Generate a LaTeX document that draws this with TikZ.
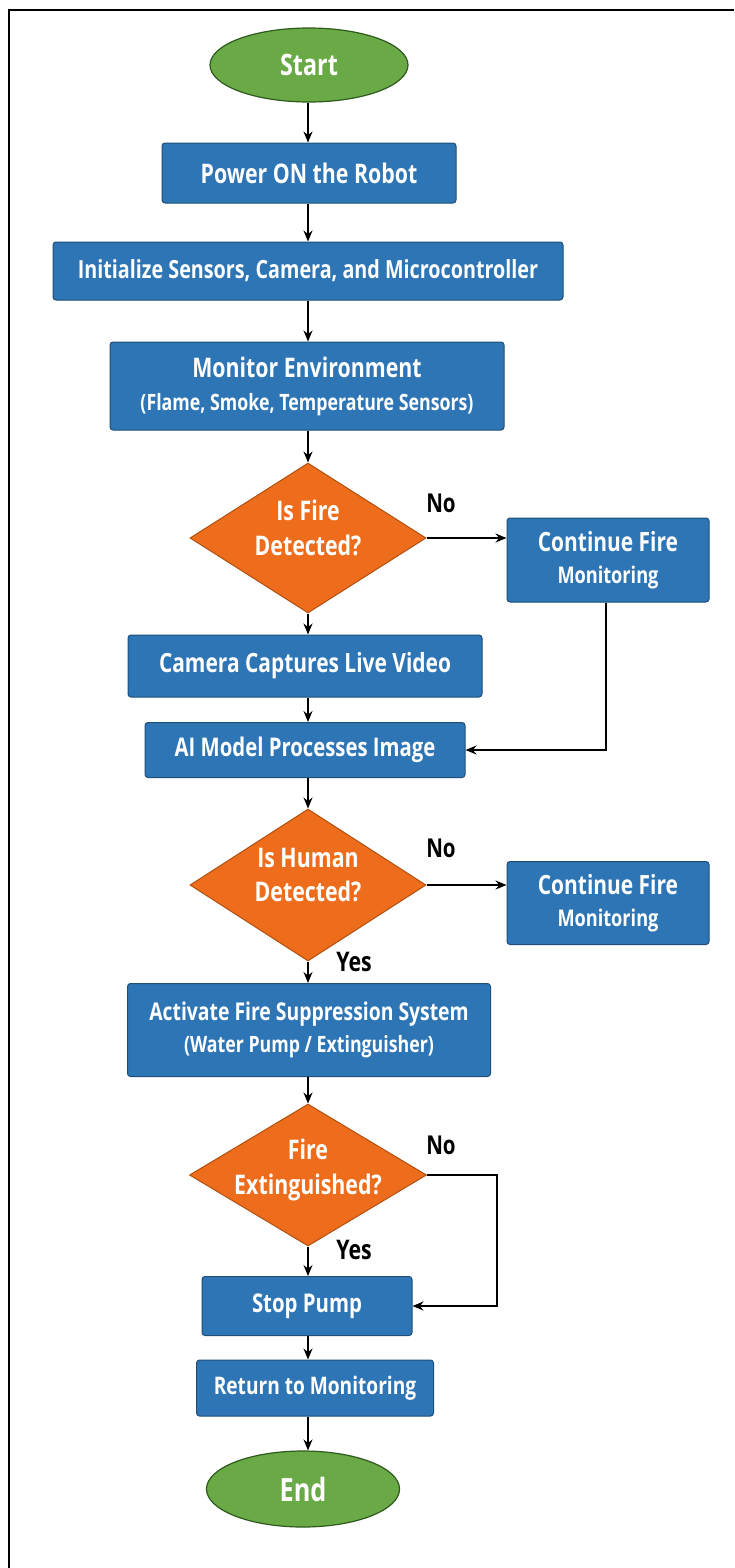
\documentclass[tikz,border=0pt]{standalone}
\usepackage{fontspec}
\setmainfont{Open Sans}[FakeStretch=0.79]
\usetikzlibrary{shapes.geometric,arrows.meta}
\definecolor{boxblue}{HTML}{2E75B6}
\definecolor{boxedge}{HTML}{1F4E79}
\definecolor{dorange}{HTML}{EE6D1C}
\definecolor{dedge}{HTML}{B0500F}
\definecolor{tgreen}{HTML}{6AAA46}
\definecolor{tedge}{HTML}{2E5A1E}
\newcommand{\fs}[1]{\fontsize{#1}{#1}\selectfont}
\newcommand{\dtext}[2]{\smash{\makebox[0pt]{\raisebox{#1}{\begin{tabular}{@{}c@{}}#2\end{tabular}}}}}
\tikzset{
  procbox/.style={rectangle, rounded corners=3pt, fill=boxblue, draw=boxedge, line width=1pt,
    text=white, font=\bfseries\fs{26}, align=center, inner sep=0pt},
  decbox/.style={diamond, fill=dorange, draw=dedge, line width=1pt, text=white,
    font=\bfseries\fs{27}, inner sep=0pt},
  termbox/.style={ellipse, fill=tgreen, draw=tedge, line width=1.2pt, text=white,
    font=\bfseries\fs{30}, inner sep=0pt},
  arr/.style={line width=1.6pt, -{Stealth[length=11pt,width=9pt]}},
  lbl/.style={font=\bfseries\fs{26}, text=black, inner sep=0pt},
}
\begin{document}
\begin{tikzpicture}[x=1pt,y=-1pt]
\useasboundingbox (0,0) rectangle (734,1568);
\fill[white] (0,0) rectangle (734,1568);
\draw[line width=2pt] (9,1568) -- (9,10) -- (734,10);
\coordinate (axis) at (308,0);

\node[termbox, minimum width=198pt, minimum height=74pt, font=\bfseries\fs{29.5}] (start) at (309,65) {Start};
\node[procbox, minimum width=294pt, minimum height=60pt, font=\bfseries\fs{27}] (power) at (309,173) {Power ON the Robot};
\node[procbox, minimum width=510pt, minimum height=58pt, font=\bfseries\fs{25}] (init) at (308,271) {Initialize Sensors, Camera, and Microcontroller};
\node[procbox, minimum width=394pt, minimum height=88pt, font=\bfseries\fs{27}] (monitor) at (307,386)
  {Monitor Environment\\[6pt]{\fs{22.5}(Flame, Smoke, Temperature Sensors)}};
\node[decbox, minimum width=236pt, minimum height=150pt] (d1) at (308,538)
  {\dtext{0pt}{Is Fire\\[6pt]Detected?}};
\node[procbox, minimum width=202pt, minimum height=84pt, font=\bfseries\fs{26.5}] (c1) at (608,560)
  {Continue Fire\\[6pt]{\fs{23}Monitoring}};
\node[procbox, minimum width=354pt, minimum height=62pt, font=\bfseries\fs{26.5}] (camera) at (305,666) {Camera Captures Live Video};
\node[procbox, minimum width=320pt, minimum height=55pt, font=\bfseries\fs{25.7}] (ai) at (305,750) {AI Model Processes Image};
\node[decbox, minimum width=236pt, minimum height=152pt] (d2) at (308,885)
  {\dtext{0pt}{Is Human\\[6pt]Detected?}};
\node[procbox, minimum width=202pt, minimum height=83pt, font=\bfseries\fs{26.5}] (c2) at (608,903)
  {Continue Fire\\[6pt]{\fs{23}Monitoring}};
\node[procbox, minimum width=363pt, minimum height=93pt, font=\bfseries\fs{24.5}] (act) at (309,1030)
  {Activate Fire Suppression System\\[8pt]{\fs{22.5}(Water Pump / Extinguisher)}};
\node[decbox, minimum width=237pt, minimum height=142pt] (d3) at (308,1175)
  {\dtext{-2pt}{Fire\\[6pt]Extinguished?}};
\node[procbox, minimum width=210pt, minimum height=59pt, font=\bfseries\fs{25.8}] (stop) at (307,1306) {Stop Pump};
\node[procbox, minimum width=237pt, minimum height=56pt, font=\bfseries\fs{24.2}] (ret) at (315,1388) {Return to Monitoring};
\node[termbox, minimum width=193pt, minimum height=76pt, font=\bfseries\fs{32}] (end) at (303,1489) {End};

\draw[arr] (start.south -| axis) -- (power.north -| axis);
\draw[arr] (power.south -| axis) -- (init.north -| axis);
\draw[arr] (init.south -| axis) -- (monitor.north -| axis);
\draw[arr] (monitor.south -| axis) -- (d1.north);
\draw[arr] (d1.south) -- (camera.north -| axis);
\draw[arr] (camera.south -| axis) -- (ai.north -| axis);
\draw[arr] (ai.south -| axis) -- (d2.north);
\draw[arr] (d2.south) -- (act.north -| axis);
\draw[arr] (act.south -| axis) -- (d3.north);
\draw[arr] (d3.south) -- (stop.north -| axis);
\draw[arr] (stop.south -| axis) -- (ret.north -| axis);
\draw[arr] (ret.south -| axis) -- (end.north -| axis);

\draw[arr] (d1.east) -- (d1.east -| c1.west);
\draw[arr] ([xshift=-2pt]c1.south) |- (ai.east);
\draw[arr] (d2.east) -- (d2.east -| c2.west);
\coordinate (r3) at (497,1175);
\draw[arr] (d3.east) -- (r3) |- (stop.east);

\node[lbl] (no1) at (441,503) {No};
\node[lbl] (no2) at (441,848) {No};
\node[lbl] (no3) at (441,1145) {No};
\node[lbl, font=\bfseries\fs{27}] (yes2) at (354,962) {Yes};
\node[lbl, font=\bfseries\fs{27}] (yes3) at (354,1250) {Yes};
\end{tikzpicture}
\end{document}
